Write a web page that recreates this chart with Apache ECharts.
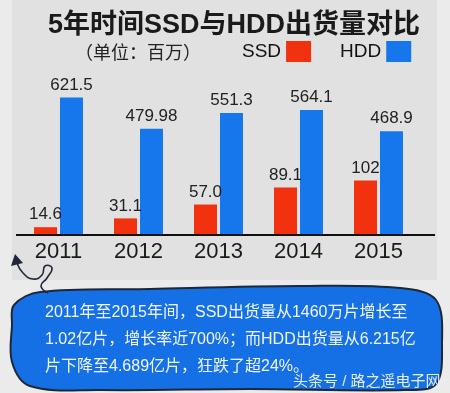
<!DOCTYPE html>
<html>
<head>
<meta charset="utf-8">
<script src="https://cdn.jsdelivr.net/npm/echarts@6/dist/echarts.min.js"></script>
<style>html,body{margin:0;padding:0;background:#ebebeb;}#c{width:450px;height:393px;}</style>
</head>
<body>
<div id="c"></div>
<script>
const categories = ['2011', '2012', '2013', '2014', '2015'];
const ssdValues = [14.6, 31.1, 57.0, 89.1, 102];
const hddValues = [621.5, 479.98, 551.3, 564.1, 468.9];
const ssdLabels = ['14.6', '31.1', '57.0', '89.1', '102'];
const hddLabels = ['621.5', '479.98', '551.3', '564.1', '468.9'];
const seriesNames = ['SSD', 'HDD'];
const titleText = '5年时间SSD与HDD出货量对比';
const unitText = '（单位：百万）';
const noteLines = ['2011年至2015年间，SSD出货量从1460万片增长至', '1.02亿片，增长率近700%；而HDD出货量从6.215亿', '片下降至4.689亿片，狂跌了超24%。'];
const watermark = '头条号 / 路之遥电子网';

const FONT = '"Liberation Sans", "Noto Sans CJK SC", sans-serif';
const chart = echarts.init(document.getElementById('c'), null, {renderer: 'canvas'});
chart.setOption({
  backgroundColor: '#ebebeb',
  animation: false,
  title: [
    {text: titleText, left: 43, top: 7,
     textStyle: {fontFamily: FONT, fontSize: 27, fontWeight: 'bold', color: '#1a1a1a'}},
    {text: unitText, left: 70, top: 40,
     textStyle: {fontFamily: FONT, fontSize: 18, fontWeight: 'normal', color: '#222'}}
  ],
  legend: {
    data: seriesNames, left: 242, top: 41, align: 'right', icon: 'rect',
    itemWidth: 25, itemHeight: 21, itemGap: 29, padding: 0,
    textStyle: {fontFamily: FONT, fontSize: 19, color: '#111'}
  },
  grid: {left: 18.5, right: 31.5, top: 80, bottom: 158},
  xAxis: {
    type: 'category', data: categories,
    axisLine: {show: true, lineStyle: {color: '#111', width: 2}},
    axisTick: {show: false},
    axisLabel: {fontFamily: FONT, fontSize: 22, color: '#1a1a1a', margin: 6}
  },
  yAxis: [
    {type: 'value', min: 0, max: 700, show: false, splitLine: {show: false}},
    {type: 'value', min: 0, max: 290, show: false, splitLine: {show: false}}
  ],
  series: [
    {name: 'SSD', type: 'bar', yAxisIndex: 1, data: ssdValues, barWidth: 23, barGap: '13%',
     itemStyle: {color: '#f2310f'},
     label: {show: true, position: 'top', distance: 4, fontFamily: FONT, fontSize: 17, color: '#222',
       formatter: p => ssdLabels[p.dataIndex]}},
    {name: 'HDD', type: 'bar', yAxisIndex: 0, data: hddValues, barWidth: 23,
     itemStyle: {color: '#1677ec'},
     label: {show: true, position: 'top', distance: 4, fontFamily: FONT, fontSize: 17, color: '#222',
       formatter: p => hddLabels[p.dataIndex]}}
  ],
  graphic: [
    {type: 'rect', z: -10, shape: {x: 12, y: 0, width: 425, height: 280},
     style: {fill: '#e1e1e1'}},
    {type: 'line', z: 5, shape: {x1: 16, y1: 235, x2: 435, y2: 235},
     style: {stroke: '#111', lineWidth: 2}},
    {type: 'polygon', z: 10,
     shape: {smooth: 0.35, points: [[14, 305], [40, 292], [150, 289], [300, 286], [400, 288], [436, 300], [442, 345], [436, 384], [405, 390], [250, 389], [100, 390], [30, 386], [12, 362], [12, 325]]},
     style: {fill: '#1570e6', stroke: '#1e2838', lineWidth: 2}},
    {type: 'polyline', z: 10,
     shape: {smooth: 0.5, points: [[48, 293], [41, 286], [47, 278], [52, 268], [45, 266], [42, 275], [33, 279], [23, 273], [17, 263]]},
     style: {fill: null, stroke: '#1e2838', lineWidth: 1.6}},
    {type: 'polygon', z: 10, shape: {points: [[11, 266], [15, 254], [23, 263]]},
     style: {fill: '#1e2838'}},
    {type: 'text', z: 11, left: 45, top: 299,
     style: {text: noteLines.join('\n'), fill: '#f2f6ff', font: '16px ' + FONT, lineHeight: 27}},
    {type: 'text', z: 11, left: 293, top: 374,
     style: {text: watermark, fill: '#e6ecf6', font: '15px ' + FONT}}
  ]
});
</script>
</body>
</html>
